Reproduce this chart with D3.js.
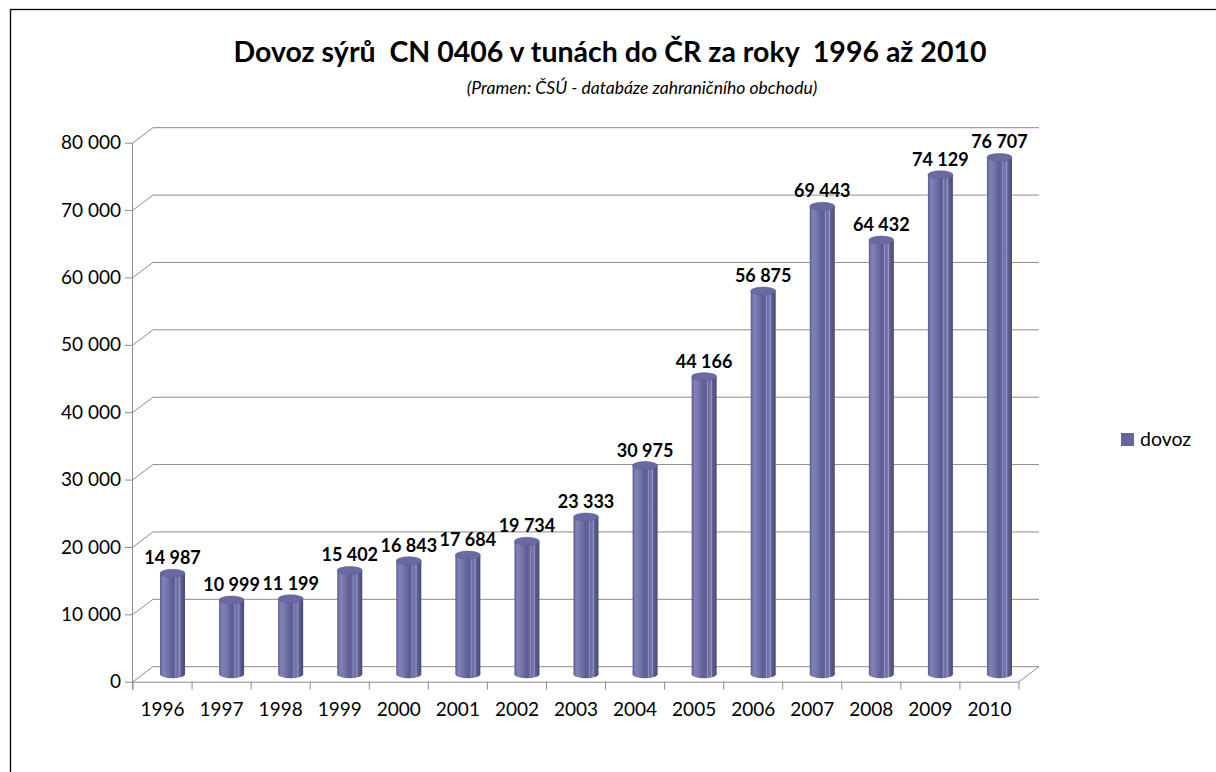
<!DOCTYPE html>
<html>
<head>
<meta charset="utf-8">
<script src="https://cdn.jsdelivr.net/npm/d3@7"></script>
<style>
  body { margin: 0; background: #fff; }
  svg { display: block; }
</style>
</head>
<body>
<svg id="chart" width="1216" height="772"></svg>
<script>
// data
const years = ["1996", "1997", "1998", "1999", "2000", "2001", "2002", "2003",
               "2004", "2005", "2006", "2007", "2008", "2009", "2010"]
const dovoz = [14987, 10999, 11199, 15402, 16843, 17684, 19734, 23333,
               30975, 44166, 56875, 69443, 64432, 74129, 76707]
const yTicks = [0, 10000, 20000, 30000, 40000, 50000, 60000, 70000, 80000]
const seriesName = "dovoz"

const titleText = "Dovoz sýrů  CN 0406 v tunách do ČR za roky  1996 až 2010"
const subtitleText = "(Pramen: ČSÚ - databáze zahraničního obchodu)"

// 3d look: depth offset of the back wall
const depthX = 20
const depthY = -15
const cylRx = 12.5
const cylRy = 4
const gridColor = "#8c8c8c"
const font = "Lato, 'Open Sans', sans-serif"

const svg = d3.select("#chart")

// outer frame (runs off the right / bottom edge)
svg.append("rect")
    .attr("x", 10.5).attr("y", 9.5)
    .attr("width", 1300).attr("height", 900)
    .attr("fill", "none").attr("stroke", "#000").attr("stroke-width", 1.3)

const x = d3.scaleBand().domain(years).range([133, 1019])
const y = d3.scaleLinear().domain([0, 80000]).range([681.7, 142.7])
const fmt = v => d3.format(",")(v).replace(/,/g, " ")

// gradient for the cylinders
const defs = svg.append("defs")
const grad = defs.append("linearGradient").attr("id", "cyl")
    .attr("x1", "0%").attr("x2", "100%").attr("y1", "0%").attr("y2", "0%")
const stops = [
    [0, "#5c5c92"], [0.12, "#8282b6"], [0.3, "#7474aa"], [0.5, "#5d5d93"],
    [0.6, "#65659c"], [0.63, "#9696c4"], [0.67, "#6a6aa2"], [0.76, "#7a7ab0"],
    [0.79, "#9a9ac8"], [0.83, "#606094"], [1, "#4a4a76"]
]
stops.forEach(s => grad.append("stop").attr("offset", s[0]).attr("stop-color", s[1]))

// back wall gridlines + side wall diagonals
const grid = svg.append("g").attr("stroke", gridColor).attr("stroke-width", 1).attr("fill", "none")
yTicks.forEach(t => {
    const yy = y(t)
    grid.append("line")
        .attr("x1", x.range()[0] + depthX).attr("x2", x.range()[1] + depthX)
        .attr("y1", yy + depthY).attr("y2", yy + depthY)
    grid.append("line")
        .attr("x1", x.range()[0]).attr("x2", x.range()[0] + depthX)
        .attr("y1", yy).attr("y2", yy + depthY)
})
// floor right edge
grid.append("line")
    .attr("x1", x.range()[1]).attr("y1", y(0))
    .attr("x2", x.range()[1] + depthX).attr("y2", y(0) + depthY)

// y axis on the front left edge
const yAxis = svg.append("g")
    .attr("transform", `translate(${x.range()[0]},0)`)
    .call(d3.axisLeft(y).tickValues(yTicks).tickSize(8).tickPadding(4).tickFormat(fmt))
yAxis.select(".domain").attr("stroke", gridColor).attr("d", `M-0.5,${y(0) + 8}V${y(80000)}`)
yAxis.selectAll(".tick line").attr("stroke", gridColor)
yAxis.selectAll("text").attr("font-family", font).attr("font-size", 19).attr("fill", "#000")

// x axis on the front floor edge
const xAxis = svg.append("g")
    .attr("transform", `translate(0,${y(0)})`)
    .call(d3.axisBottom(x).tickSize(0).tickPadding(21))
xAxis.select(".domain").attr("stroke", gridColor).attr("d", `M${x.range()[0]},0.5H${x.range()[1]}`)
xAxis.selectAll("text").attr("font-family", font).attr("font-size", 19).attr("fill", "#000")
xAxis.selectAll(".bound").data(years.map(d => x(d)).concat([x.range()[1]]))
    .join("line").attr("class", "bound")
    .attr("x1", d => d).attr("x2", d => d).attr("y1", 0).attr("y2", 8)
    .attr("stroke", gridColor)

// cylinders, set halfway into the depth
const bars = svg.append("g")
years.forEach((yr, i) => {
    const cx = x(yr) + x.bandwidth() / 2 + depthX / 2
    const top = y(dovoz[i]) + depthY / 2
    const bottom = y(0) + depthY / 2
    const g = bars.append("g")
    g.append("ellipse").attr("cx", cx).attr("cy", bottom).attr("rx", cylRx).attr("ry", cylRy)
        .attr("fill", "url(#cyl)")
    g.append("rect").attr("x", cx - cylRx).attr("y", top).attr("width", cylRx * 2)
        .attr("height", bottom - top).attr("fill", "url(#cyl)")
    g.append("ellipse").attr("cx", cx).attr("cy", top).attr("rx", cylRx).attr("ry", cylRy)
        .attr("fill", "#6a6aa2").attr("stroke", "#5a5a8e").attr("stroke-width", 0.5)
    g.append("text").attr("x", cx).attr("y", top - 9)
        .attr("text-anchor", "middle").attr("font-family", font)
        .attr("font-weight", "bold").attr("font-size", 18).attr("fill", "#000")
        .text(fmt(dovoz[i]))
})

// title and subtitle
svg.append("text").attr("x", 610).attr("y", 62)
    .attr("text-anchor", "middle").attr("font-family", font)
    .attr("font-weight", "bold").attr("font-size", 28.5).attr("fill", "#000")
    .attr("xml:space", "preserve").style("white-space", "pre")
    .text(titleText)
svg.append("text").attr("x", 642).attr("y", 94)
    .attr("text-anchor", "middle").attr("font-family", font)
    .attr("font-style", "italic").attr("font-size", 17.5).attr("fill", "#000")
    .text(subtitleText)

// legend
const legend = svg.append("g").attr("transform", "translate(1121,433)")
legend.append("rect").attr("width", 13).attr("height", 13).attr("fill", "#66669e")
legend.append("text").attr("x", 19).attr("y", 13)
    .attr("font-family", font).attr("font-size", 19.5).attr("fill", "#000")
    .text(seriesName)
</script>
</body>
</html>
